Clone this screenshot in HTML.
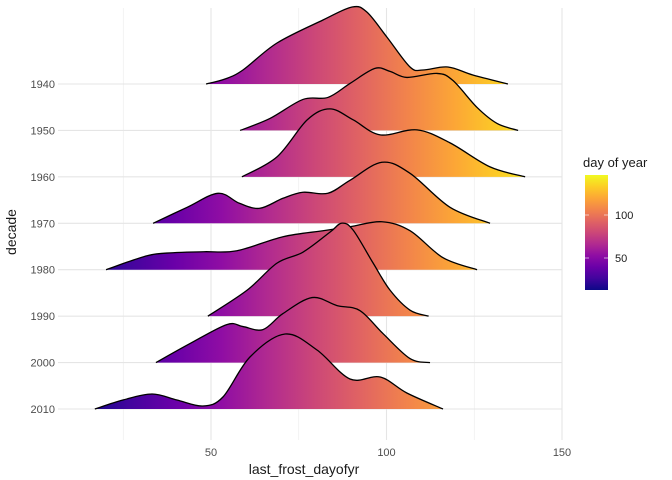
<!DOCTYPE html>
<html><head><meta charset="utf-8"><style>
body{margin:0;background:#fff;}
svg{display:block;font-family:"Liberation Sans",sans-serif;}
</style></head><body>
<svg id="chart" width="672" height="480" viewBox="0 0 672 480">
<defs>
<linearGradient id="plasma" gradientUnits="userSpaceOnUse" x1="81" y1="0" x2="548" y2="0">
<stop offset="0" stop-color="#0d0887"/><stop offset="0.1" stop-color="#41049d"/><stop offset="0.2" stop-color="#6a00a8"/><stop offset="0.3" stop-color="#8f0da4"/><stop offset="0.4" stop-color="#b12a90"/><stop offset="0.5" stop-color="#cc4778"/><stop offset="0.6" stop-color="#e16462"/><stop offset="0.7" stop-color="#f2844b"/><stop offset="0.8" stop-color="#fca636"/><stop offset="0.9" stop-color="#fcce25"/><stop offset="1" stop-color="#f0f921"/>
</linearGradient>
<linearGradient id="plasmaV" x1="0" y1="1" x2="0" y2="0">
<stop offset="0" stop-color="#0d0887"/><stop offset="0.1" stop-color="#41049d"/><stop offset="0.2" stop-color="#6a00a8"/><stop offset="0.3" stop-color="#8f0da4"/><stop offset="0.4" stop-color="#b12a90"/><stop offset="0.5" stop-color="#cc4778"/><stop offset="0.6" stop-color="#e16462"/><stop offset="0.7" stop-color="#f2844b"/><stop offset="0.8" stop-color="#fca636"/><stop offset="0.9" stop-color="#fcce25"/><stop offset="1" stop-color="#f0f921"/>
</linearGradient>
</defs>
<g id="grid"></g>
<g id="ridges"></g>
<g id="axes"></g>
<g id="legend">
<text x="583" y="167" font-size="13" fill="#1a1a1a">day of year</text>
<rect x="585" y="175" width="23" height="115" fill="url(#plasmaV)"/>
<line x1="585" y1="215" x2="589" y2="215" stroke="#fff" opacity="0.6"/><line x1="604" y1="215" x2="608" y2="215" stroke="#fff" opacity="0.6"/>
<line x1="585" y1="258" x2="589" y2="258" stroke="#fff" opacity="0.6"/><line x1="604" y1="258" x2="608" y2="258" stroke="#fff" opacity="0.6"/>
<text x="615" y="219" font-size="11" fill="#1a1a1a">100</text>
<text x="615" y="262" font-size="11" fill="#1a1a1a">50</text>
</g>
</svg>
<script>
const decades = ["1940","1950","1960","1970","1980","1990","2000","2010"];
const xs1940 = [48.6,54,59.1,68.8,81.9,90.2,94.4,100.1,106.7,110.4,117.5,124.6,134.6];
const hs1940 = [0,5,14,41,64,77,72,47,17,14,17,9,0];
const xs1950 = [58.3,66.8,76.2,83.3,89.6,96.7,101,105.8,114.4,118.9,125.8,131.5,137.5];
const hs1950 = [0,12,31,33,47,62,59,53,57,50,23,7,0];
const xs1960 = [58.8,68.8,77.4,83.9,90.5,98.2,108.7,118.1,129.5,139.5];
const hs1960 = [0,20,57,68,57,42,47,34,10,0];
const xs1970 = [33.5,43.2,52,58.1,63.9,70.5,76.2,83.3,89.6,98.7,106.7,118.1,129.5];
const hs1970 = [0,16,30,20,15,25,31,30,43,61,50,16,0];
const xs1980 = [20.1,31.8,39.2,48,57.4,70.5,81.9,89.6,98.7,106.7,116.1,125.8];
const hs1980 = [0,14,17,18,19,33,39,43,48,39,12,0];
const xs1990 = [49.1,60.3,68.8,76.2,83.9,87.3,90.5,96.2,101,106.7,112];
const hs1990 = [0,26,53,64,84,93,86,53,26,6,0];
const xs2000 = [34.3,44,54.5,59.1,64.8,70.5,78.8,85.9,92.4,99,106.7,112.4];
const hs2000 = [0,19,38,36,33,49,65,57,52,29,4,0];
const xs2010 = [16.9,24.9,33.2,40.3,47.7,53.4,61.1,71.1,80.2,89.6,98.2,105.8,116.1];
const hs2010 = [0,9,15,9,3,12,52,75,59,30,32,16,0];
const xTicks = [50,100,150];
const xMinor = [25,75,125];

const series = [[xs1940,hs1940],[xs1950,hs1950],[xs1960,hs1960],[xs1970,hs1970],[xs1980,hs1980],[xs1990,hs1990],[xs2000,hs2000],[xs2010,hs2010]];
const NS="http://www.w3.org/2000/svg";
const xScale = v => 35.5 + v*3.51;
const yBase = i => 84 + i*46.43;
const grid=document.getElementById('grid'), ridges=document.getElementById('ridges'), axes=document.getElementById('axes');
function mk(tag, attrs, parent){const e=document.createElementNS(NS,tag);for(const k in attrs)e.setAttribute(k,attrs[k]);parent.appendChild(e);return e;}

xMinor.forEach(v=>{const l=mk('line',{x1:xScale(v),x2:xScale(v),y1:8,y2:440,stroke:'#ebebeb','stroke-width':0.6},grid);

});
xTicks.forEach(v=>{const l=mk('line',{x1:xScale(v),x2:xScale(v),y1:8,y2:440,stroke:'#e5e5e5','stroke-width':1.1},grid);


const t=mk('text',{x:xScale(v),y:456,'text-anchor':'middle','font-size':11,fill:'#4d4d4d'},axes);t.textContent=v;

});
decades.forEach((d,i)=>{const l=mk('line',{x1:58,x2:562,y1:yBase(i),y2:yBase(i),stroke:'#e5e5e5','stroke-width':1.1},grid);


const t=mk('text',{x:55,y:yBase(i)+4,'text-anchor':'end','font-size':11,fill:'#4d4d4d'},axes);t.textContent=d;

});
const xt=mk('text',{x:304,y:474,'text-anchor':'middle','font-size':14,fill:'#1a1a1a'},axes);xt.textContent='last_frost_dayofyr';


const yt=mk('text',{x:0,y:0,transform:'translate(16,232) rotate(-90)','text-anchor':'middle','font-size':14,fill:'#1a1a1a'},axes);yt.textContent='decade';



function smooth(pts){let d=`M${pts[0][0]},${pts[0][1]}`;
for(let i=0;i<pts.length-1;i++){const p0=pts[Math.max(i-1,0)],p1=pts[i],p2=pts[i+1],p3=pts[Math.min(i+2,pts.length-1)];
const c1=[p1[0]+(p2[0]-p0[0])/6,p1[1]+(p2[1]-p0[1])/6],c2=[p2[0]-(p3[0]-p1[0])/6,p2[1]-(p3[1]-p1[1])/6];
d+=` C${c1[0]},${c1[1]} ${c2[0]},${c2[1]} ${p2[0]},${p2[1]}`;}return d;}
series.forEach(([xv,hv],i)=>{const b=yBase(i);
const pts=xv.map((v,j)=>[xScale(v),b-hv[j]]);
const line=smooth(pts);
const g=mk('g',{},ridges);


mk('path',{d:line+` L${pts[pts.length-1][0]},${b} L${pts[0][0]},${b} Z`,fill:'url(#plasma)'},g);
mk('path',{d:line,fill:'none',stroke:'#000','stroke-width':1.3},g);});
</script>
</body></html>
